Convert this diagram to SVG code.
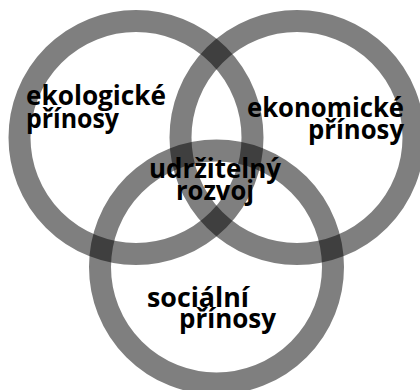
<svg xmlns="http://www.w3.org/2000/svg" width="420" height="390" viewBox="0 0 420 390">
<style>
.ring{fill:none;stroke:#000;stroke-opacity:0.5;stroke-width:22}
.lbl{font-family:"Open Sans","DejaVu Sans",sans-serif;font-weight:bold;font-size:26px;fill:#000}
</style>
<rect width="420" height="390" fill="#fff"/>
<g id="ring-ekologicke"><circle class="ring" cx="136" cy="137.5" r="116.5"/></g>
<g id="ring-ekonomicke"><circle class="ring" cx="297" cy="137.5" r="116.5"/></g>
<g id="ring-socialni"><circle class="ring" cx="216.5" cy="267" r="116.5"/></g>
<g id="ekologicke">
<text class="lbl" x="26" y="105" textLength="140" lengthAdjust="spacingAndGlyphs">ekologické</text>
<text class="lbl" x="26" y="128" textLength="93" lengthAdjust="spacingAndGlyphs">přínosy</text>
</g>
<g id="ekonomicke">
<text class="lbl" x="247" y="117" textLength="157" lengthAdjust="spacingAndGlyphs">ekonomické</text>
<text class="lbl" x="308" y="139" textLength="96" lengthAdjust="spacingAndGlyphs">přínosy</text>
</g>
<g id="udrzitelny-rozvoj">
<text class="lbl" x="149" y="178" textLength="132" lengthAdjust="spacingAndGlyphs">udržitelný</text>
<text class="lbl" x="176" y="200" textLength="78" lengthAdjust="spacingAndGlyphs">rozvoj</text>
</g>
<g id="socialni">
<text class="lbl" x="147" y="307" textLength="102" lengthAdjust="spacingAndGlyphs">sociální</text>
<text class="lbl" x="179" y="328" textLength="97" lengthAdjust="spacingAndGlyphs">přínosy</text>
</g>
</svg>
